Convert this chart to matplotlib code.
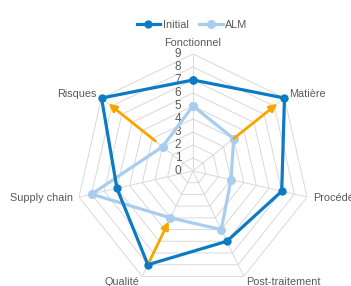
import numpy as np
import matplotlib
matplotlib.use("Agg")
import matplotlib.pyplot as plt

plt.rcParams['font.family'] = ['Liberation Sans', 'DejaVu Sans']

categories = ['Fonctionnel', 'Matière', 'Procédés', 'Post-traitement',
              'Qualité', 'Supply chain', 'Risques']
initial = [7, 9, 7, 6, 8, 6, 9]
alm = [5, 4, 3, 5, 4, 8, 3]
levels = [0, 1, 2, 3, 4, 5, 6, 7, 8, 9]

# orange arrows: (category index, from, to)
arrow_cat = [6, 1, 4]
arrow_from = [3.7, 4.0, 7.7]
arrow_to = [8.3, 8.3, 4.3]

c_init = '#0B7BC4'
c_alm = '#A8CDEE'
c_arrow = '#F7A600'
c_grid = '#D9D9D9'
c_text = '#595959'

n = len(categories)
theta = np.arange(n) * 2 * np.pi / n
theta_c = np.append(theta, theta[0])

fig = plt.figure(figsize=(3.51, 2.86), dpi=100)
ax = fig.add_axes([0.2165, -0.007, 0.6667, 0.8182], projection='polar')
ax.set_theta_zero_location('N')
ax.set_theta_direction(-1)
ax.set_ylim(0, 9)
ax.grid(False)
ax.spines['polar'].set_visible(False)
ax.set_xticks([])
ax.set_yticks([])
ax.patch.set_alpha(0)

# heptagon grid
for lv in levels[1:]:
    ax.plot(theta_c, [lv] * (n + 1), color=c_grid, lw=0.7, zorder=1)
for t in theta:
    ax.plot([t, t], [0, 9], color=c_grid, lw=0.7, zorder=1)

# value labels
for lv in levels:
    ax.annotate(str(lv), xy=(0, lv), xytext=(-8.5, 0), textcoords='offset points',
                ha='right', va='center', fontsize=8.5, color=c_text)

# category labels
aligns = [('center', 'bottom'), ('left', 'center'), ('left', 'center'),
          ('left', 'center'), ('right', 'center'), ('right', 'center'),
          ('right', 'center')]
for t, lab, (ha, va) in zip(theta, categories, aligns):
    ax.text(t, 9.45, lab, ha=ha, va=va, fontsize=7.8, color=c_text, clip_on=False)

ax.plot(theta_c, initial + initial[:1], color=c_init, lw=2.3, marker='o',
        markersize=5, label='Initial', zorder=4, clip_on=False)
ax.plot(theta_c, alm + alm[:1], color=c_alm, lw=2.3, marker='o',
        markersize=5.5, label='ALM', zorder=3, clip_on=False)

for i, r0, r1 in zip(arrow_cat, arrow_from, arrow_to):
    ax.annotate('', xy=(theta[i], r1), xytext=(theta[i], r0),
                arrowprops=dict(arrowstyle='-|>', color=c_arrow, lw=2,
                                mutation_scale=11, shrinkA=0, shrinkB=0),
                zorder=5)

fig.legend(loc='upper center', bbox_to_anchor=(0.547, 0.965), ncol=2,
           frameon=False, fontsize=7.8, handlelength=2.2, columnspacing=0.9,
           handletextpad=0.25, labelcolor=c_text)

fig.savefig('out.png', dpi=100)
